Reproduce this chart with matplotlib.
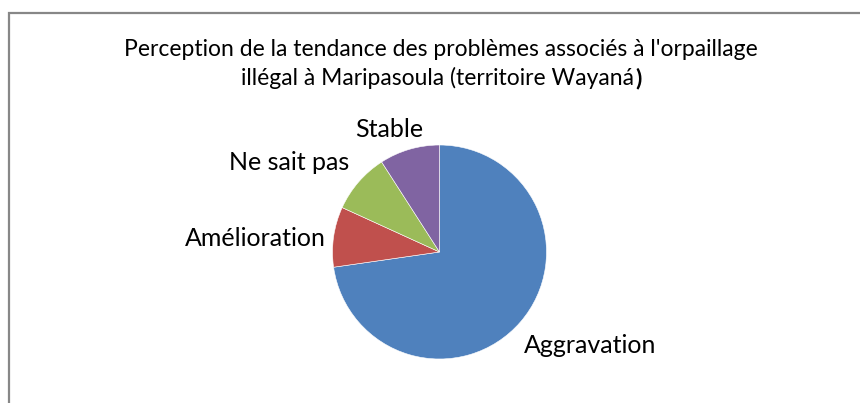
import matplotlib.pyplot as plt

# Data (counts, clockwise from 12 o'clock)
categories = ['Aggravation', 'Amélioration', 'Ne sait pas', 'Stable']
counts = [24, 3, 3, 3]
colors = ['#4f81bd', '#c0504d', '#9bbb59', '#8064a2']

title_line1 = "Perception de la tendance des problèmes associés à l'orpaillage"
title_line2 = "illégal à Maripasoula (territoire Wayaná"

plt.rcParams['font.family'] = ['Lato', 'DejaVu Sans']

W, H = 860, 403
fig = plt.figure(figsize=(W / 100, H / 100), dpi=100)
fig.patch.set_facecolor('white')

# chart frame: only the top and left edges are visible in the crop
frame = plt.Rectangle((9 / W, -0.1), 1.2, (H - 13) / H + 0.1, transform=fig.transFigure,
                      fill=False, edgecolor='#878787', linewidth=1.6)
fig.add_artist(frame)

# pie axes centred at (439.5, 252) px, radius 107 px
cx, cy, r = 439.5, 252, 107
ax = fig.add_axes([(cx - r) / W, (H - cy - r) / H, 2 * r / W, 2 * r / H])
ax.pie(counts, colors=colors, startangle=90, counterclock=False,
       wedgeprops=dict(edgecolor='white', linewidth=0.4))
ax.set_xlim(-1, 1)
ax.set_ylim(-1, 1)
ax.set_aspect('equal')
ax.axis('off')


def px(x, y):
    return ((x - cx) / r, (cy - y) / r)


label_pos = {
    'Aggravation': (590, 353),
    'Amélioration': (255.5, 246.5),
    'Ne sait pas': (289.5, 170),
    'Stable': (389, 137),
}
for name in categories:
    x, y = px(*label_pos[name])
    ax.text(x, y, name, ha='center', va='baseline', fontsize=18, color='black', clip_on=False)

title_size = 16.5
fig.text(441 / W, 1 - 56.5 / H, title_line1, ha='center', va='baseline', fontsize=title_size)

# second line ends with a bold closing bracket, as in the reference
t2 = fig.text(0, 1 - 85 / H, title_line2, ha='right', va='baseline', fontsize=title_size)
tp = fig.text(0, 1 - 85 / H, ')', ha='left', va='baseline', fontsize=title_size, fontweight='bold')
fig.canvas.draw()
w2 = t2.get_window_extent().width
wp = tp.get_window_extent().width
join = 441 + (w2 + wp) / 2 - wp
t2.set_x(join / W)
tp.set_x((join + 1) / W)

fig.savefig('out.png', dpi=100, facecolor='white')
